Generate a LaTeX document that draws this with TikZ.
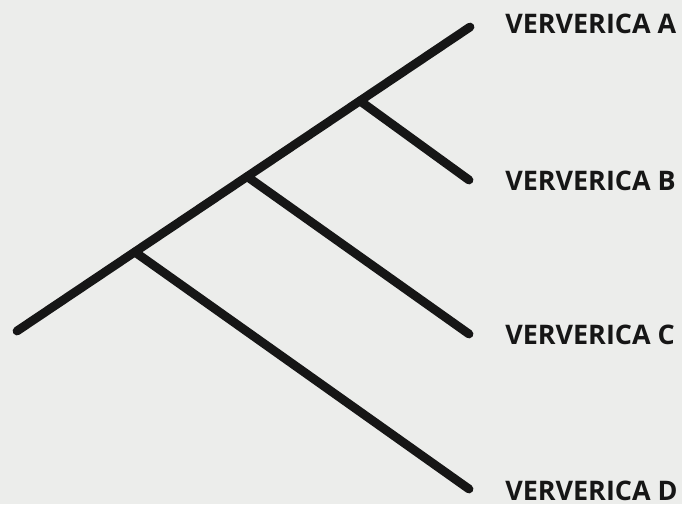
\documentclass[tikz,border=0pt]{standalone}
\usepackage{fontspec}
\setmainfont{Open Sans}
\usetikzlibrary{calc}
\definecolor{bgcol}{RGB}{236,237,235}
\definecolor{inkcol}{RGB}{22,22,22}
\tikzset{
  branchln/.style={line width=6.6pt, line cap=round, inkcol},
  leaflbl/.style={anchor=west, inner sep=0pt, text=inkcol,
    font=\fontsize{20.2}{24}\selectfont\bfseries},
}

\begin{document}
\begin{tikzpicture}[x=0.75pt, y=-0.75pt]
    % --- background and page size ---
    \fill[bgcol] (0,0) rectangle (682,504);
    \useasboundingbox (0,0) rectangle (682,504);
    % --- main stem ---
    \coordinate (root) at (17,331);
    \coordinate (tipA) at (470,27);
    \coordinate (jB) at ($(root)!0.757!(tipA)$);
    \coordinate (jC) at ($(root)!0.508!(tipA)$);
    \coordinate (jD) at ($(root)!0.26!(tipA)$);
    \coordinate (tipB) at (469,180);
    \coordinate (tipC) at (469,334);
    \coordinate (tipD) at (469,489);
    \draw[branchln] (root) -- (tipA);
    \draw[branchln] (jB) -- (tipB);
    \draw[branchln] (jC) -- (tipC);
    \draw[branchln] (jD) -- (tipD);
    % --- labels ---
    \node[leaflbl] (labA) at (505,24) {VERVERICA A};
    \node[leaflbl] (labB) at (505,181) {VERVERICA B};
    \node[leaflbl] (labC) at (505,335) {VERVERICA C};
    \node[leaflbl] (labD) at (505,491) {VERVERICA D};
\end{tikzpicture}
\end{document}
